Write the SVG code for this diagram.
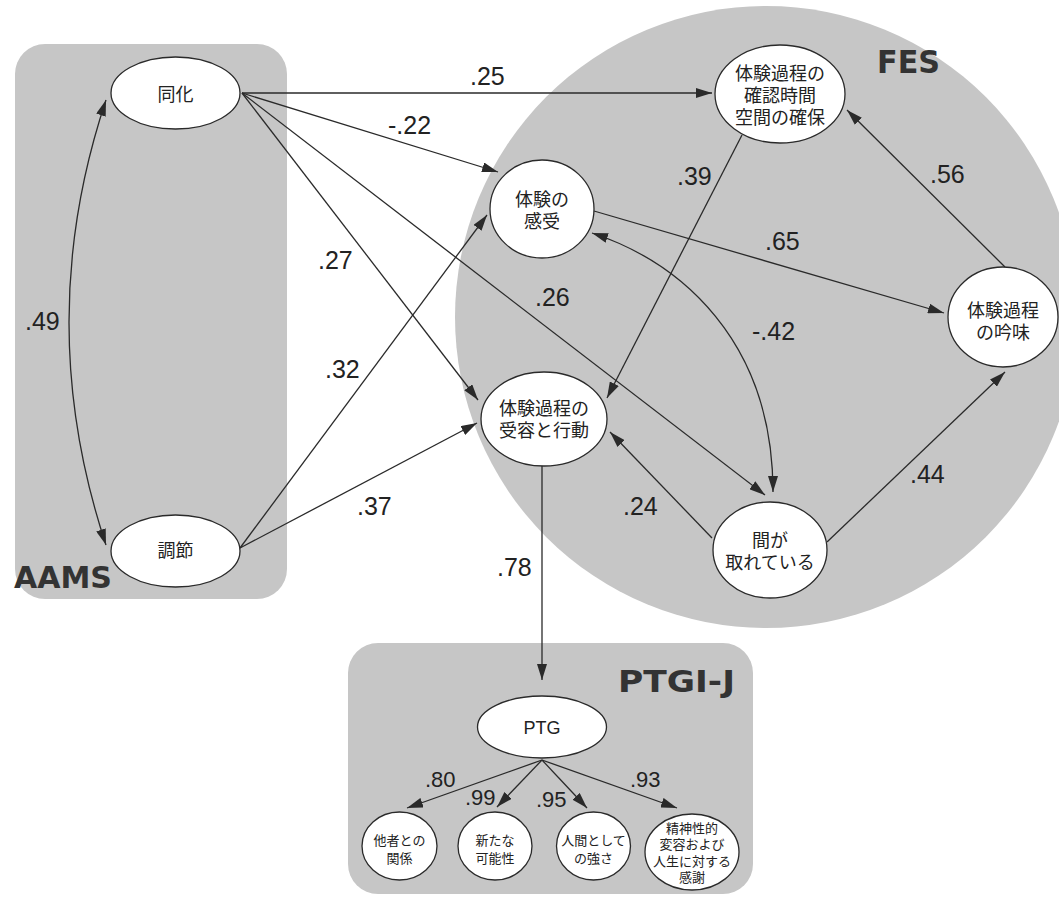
<svg xmlns="http://www.w3.org/2000/svg" width="1059" height="897" viewBox="0 0 1059 897">
<defs>
<marker id="ah" viewBox="0 0 16 10" refX="16" refY="5" markerWidth="16" markerHeight="10" markerUnits="userSpaceOnUse" orient="auto-start-reverse">
<path d="M0,0 L16,5 L0,10 z" fill="#2a2a2a"/>
</marker>
<style>
.bg{fill:#c6c6c6;stroke:none}
.nd{fill:#ffffff;stroke:#2a2a2a;stroke-width:1.3}
.ed{fill:none;stroke:#2a2a2a;stroke-width:1.3}
.ar{marker-end:url(#ah)}
.dar{marker-start:url(#ah);marker-end:url(#ah)}
.lb{font-family:"Liberation Sans",Arial,sans-serif;font-size:25px;fill:#222}
.sl{font-family:"Liberation Sans",Arial,sans-serif;font-size:22px;fill:#222}
.nt{font-family:"Liberation Sans","Noto Sans CJK JP",sans-serif;font-size:18px;fill:#222;text-anchor:middle}
.st{font-family:"Liberation Sans","Noto Sans CJK JP",sans-serif;font-size:13px;fill:#222;text-anchor:middle}
.hd{font-family:"DejaVu Sans","Liberation Sans",sans-serif;font-weight:bold;fill:#333}
</style>
</defs>
<g id="regions">
<rect class="bg" x="15" y="44" width="272" height="555" rx="30"/>
<circle class="bg" cx="766" cy="317" r="311"/>
<rect class="bg" x="348" y="643" width="405" height="251" rx="30"/>
<text class="hd" x="14" y="588" font-size="30" textLength="98" lengthAdjust="spacingAndGlyphs">AAMS</text>
<text class="hd" x="877" y="73" font-size="32" textLength="63" lengthAdjust="spacingAndGlyphs">FES</text>
<text class="hd" x="618" y="692" font-size="31" textLength="117" lengthAdjust="spacingAndGlyphs">PTGI-J</text>
</g>
<g id="connectors">
<path class="ed dar" d="M106,100 Q32,322 106,545"/>
<path class="ed ar" d="M242,93 L712,93"/>
<path class="ed ar" d="M242,93 L498,172"/>
<path class="ed ar" d="M242,93 L478,400"/>
<path class="ed ar" d="M242,93 L765,495"/>
<path class="ed ar" d="M240,548 L487,215"/>
<path class="ed ar" d="M240,548 L477,423"/>
<path class="ed ar" d="M742,135 L607,398"/>
<path class="ed ar" d="M1005,267 L847,110"/>
<path class="ed ar" d="M594,211 L944,313"/>
<path class="ed dar" d="M592,233 C680,262 773,340 773,492"/>
<path class="ed ar" d="M712,538 L610,432"/>
<path class="ed ar" d="M827,542 L1005,372"/>
<path class="ed ar" d="M542,466 L542,680"/>
<path class="ed ar" d="M542,760 L407,808"/>
<path class="ed ar" d="M542,760 L497,807"/>
<path class="ed ar" d="M542,760 L587,808"/>
<path class="ed ar" d="M542,760 L677,808"/>
<text class="lb" x="470" y="85">.25</text>
<text class="lb" x="388" y="134">-.22</text>
<text class="lb" x="318" y="269">.27</text>
<text class="lb" x="535" y="306">.26</text>
<text class="lb" x="325" y="378">.32</text>
<text class="lb" x="357" y="515">.37</text>
<text class="lb" x="25" y="330">.49</text>
<text class="lb" x="677" y="185">.39</text>
<text class="lb" x="930" y="183">.56</text>
<text class="lb" x="765" y="250">.65</text>
<text class="lb" x="752" y="340">-.42</text>
<text class="lb" x="623" y="515">.24</text>
<text class="lb" x="910" y="483">.44</text>
<text class="lb" x="497" y="576">.78</text>
<text class="sl" x="425" y="787">.80</text>
<text class="sl" x="465" y="805">.99</text>
<text class="sl" x="536" y="807">.95</text>
<text class="sl" x="630" y="787">.93</text>
</g>
<g id="n-douka">
<ellipse class="nd" cx="175.5" cy="93" rx="64.5" ry="36"/>
<text class="nt" x="175.5" y="101" font-size="19">同化</text>
</g>
<g id="n-chousetsu">
<ellipse class="nd" cx="175.5" cy="551" rx="64.5" ry="36"/>
<text class="nt" x="175.5" y="557" font-size="19">調節</text>
</g>
<g id="n-kakunin">
<ellipse class="nd" cx="780" cy="94" rx="65" ry="49"/>
<text class="nt" x="780" y="80">体験過程の</text>
<text class="nt" x="780" y="102">確認時間</text>
<text class="nt" x="780" y="124">空間の確保</text>
</g>
<g id="n-kanju">
<ellipse class="nd" cx="542" cy="209" rx="52" ry="49"/>
<text class="nt" x="542" y="206">体験の</text>
<text class="nt" x="542" y="228">感受</text>
</g>
<g id="n-juyou">
<ellipse class="nd" cx="544" cy="419" rx="63" ry="47"/>
<text class="nt" x="544" y="415">体験過程の</text>
<text class="nt" x="544" y="437">受容と行動</text>
</g>
<g id="n-ma">
<ellipse class="nd" cx="770" cy="550" rx="57" ry="48"/>
<text class="nt" x="770" y="547">間が</text>
<text class="nt" x="770" y="569">取れている</text>
</g>
<g id="n-ginmi">
<ellipse class="nd" cx="1003" cy="317" rx="55" ry="50"/>
<text class="nt" x="1003" y="317">体験過程</text>
<text class="nt" x="1003" y="339">の吟味</text>
</g>
<g id="n-ptg">
<ellipse class="nd" cx="542" cy="727" rx="64.5" ry="31"/>
<text class="nt" x="542" y="734" font-size="20">PTG</text>
</g>
<g id="n-tasha">
<ellipse class="nd" cx="399.5" cy="846" rx="37.5" ry="34"/>
<text class="st" x="399.5" y="845">他者との</text>
<text class="st" x="399.5" y="863">関係</text>
</g>
<g id="n-aratana">
<ellipse class="nd" cx="495" cy="846" rx="37" ry="34"/>
<text class="st" x="495" y="845">新たな</text>
<text class="st" x="495" y="863">可能性</text>
</g>
<g id="n-ningen">
<ellipse class="nd" cx="593.5" cy="846" rx="37" ry="34"/>
<text class="st" x="593.5" y="845">人間として</text>
<text class="st" x="593.5" y="863">の強さ</text>
</g>
<g id="n-seishin">
<ellipse class="nd" cx="692" cy="852" rx="47" ry="38"/>
<text class="st" x="692" y="833" font-size="12.5">精神性的</text>
<text class="st" x="692" y="849" font-size="12.5">変容および</text>
<text class="st" x="692" y="866" font-size="12.5">人生に対する</text>
<text class="st" x="692" y="882" font-size="12.5">感謝</text>
</g>
</svg>
